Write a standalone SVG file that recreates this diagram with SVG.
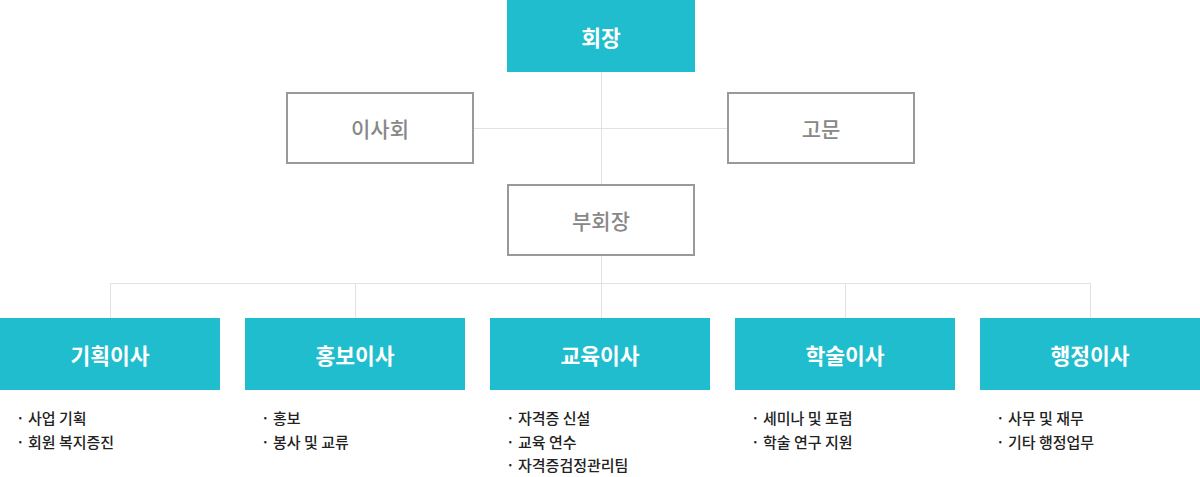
<svg xmlns="http://www.w3.org/2000/svg" width="1200" height="477" viewBox="0 0 1200 477">
<style>
.fill{fill:#1fbdcd}
.out{fill:#fff;stroke:#999;stroke-width:2}
.tw{font-family:"Noto Sans CJK KR","Noto Sans",sans-serif;font-size:21.5px;font-weight:700;fill:#fff;text-anchor:middle;dominant-baseline:central}
.tg{font-family:"Noto Sans CJK KR","Noto Sans",sans-serif;font-size:21px;font-weight:500;fill:#888;text-anchor:middle;dominant-baseline:central}
.li{font-family:"Noto Sans CJK KR","Noto Sans",sans-serif;font-size:15px;font-weight:500;fill:#222}
.ln{stroke:#e2e2e2;stroke-width:1;fill:none}
</style>
<rect width="1200" height="477" fill="#fff"/>
<g id="connectors">
<path class="ln" d="M601.5 72V184M473 128.5H727M601.5 255V283.5M110.5 283.5H1090.5M110.5 283V318M355.5 283V318M601.5 283V318M845.5 283V318M1090.5 283V318"/>
</g>
<g id="president"><rect class="fill" x="507" y="0" width="188" height="72"/><text class="tw" x="601" y="36">회장</text></g>
<g id="board"><rect class="out" x="287" y="93" width="186" height="70"/><text class="tg" x="380" y="128">이사회</text></g>
<g id="advisor"><rect class="out" x="728" y="93" width="186" height="70"/><text class="tg" x="821" y="128">고문</text></g>
<g id="vicepresident"><rect class="out" x="508" y="185" width="186" height="70"/><text class="tg" x="601" y="220">부회장</text></g>
<g id="planning"><rect class="fill" x="0" y="318" width="220" height="72"/><text class="tw" x="110" y="354">기획이사</text>
<text class="li" x="16" y="424">· 사업 기획</text><text class="li" x="16" y="447.5">· 회원 복지증진</text></g>
<g id="pr"><rect class="fill" x="245" y="318" width="220" height="72"/><text class="tw" x="355" y="354">홍보이사</text>
<text class="li" x="261" y="424">· 홍보</text><text class="li" x="261" y="447.5">· 봉사 및 교류</text></g>
<g id="education"><rect class="fill" x="490" y="318" width="220" height="72"/><text class="tw" x="600" y="354">교육이사</text>
<text class="li" x="506" y="424">· 자격증 신설</text><text class="li" x="506" y="447.5">· 교육 연수</text><text class="li" x="506" y="471">· 자격증검정관리팀</text></g>
<g id="academic"><rect class="fill" x="735" y="318" width="220" height="72"/><text class="tw" x="845" y="354">학술이사</text>
<text class="li" x="751" y="424">· 세미나 및 포럼</text><text class="li" x="751" y="447.5">· 학술 연구 지원</text></g>
<g id="admin"><rect class="fill" x="980" y="318" width="220" height="72"/><text class="tw" x="1090" y="354">행정이사</text>
<text class="li" x="996" y="424">· 사무 및 재무</text><text class="li" x="996" y="447.5">· 기타 행정업무</text></g>
</svg>
